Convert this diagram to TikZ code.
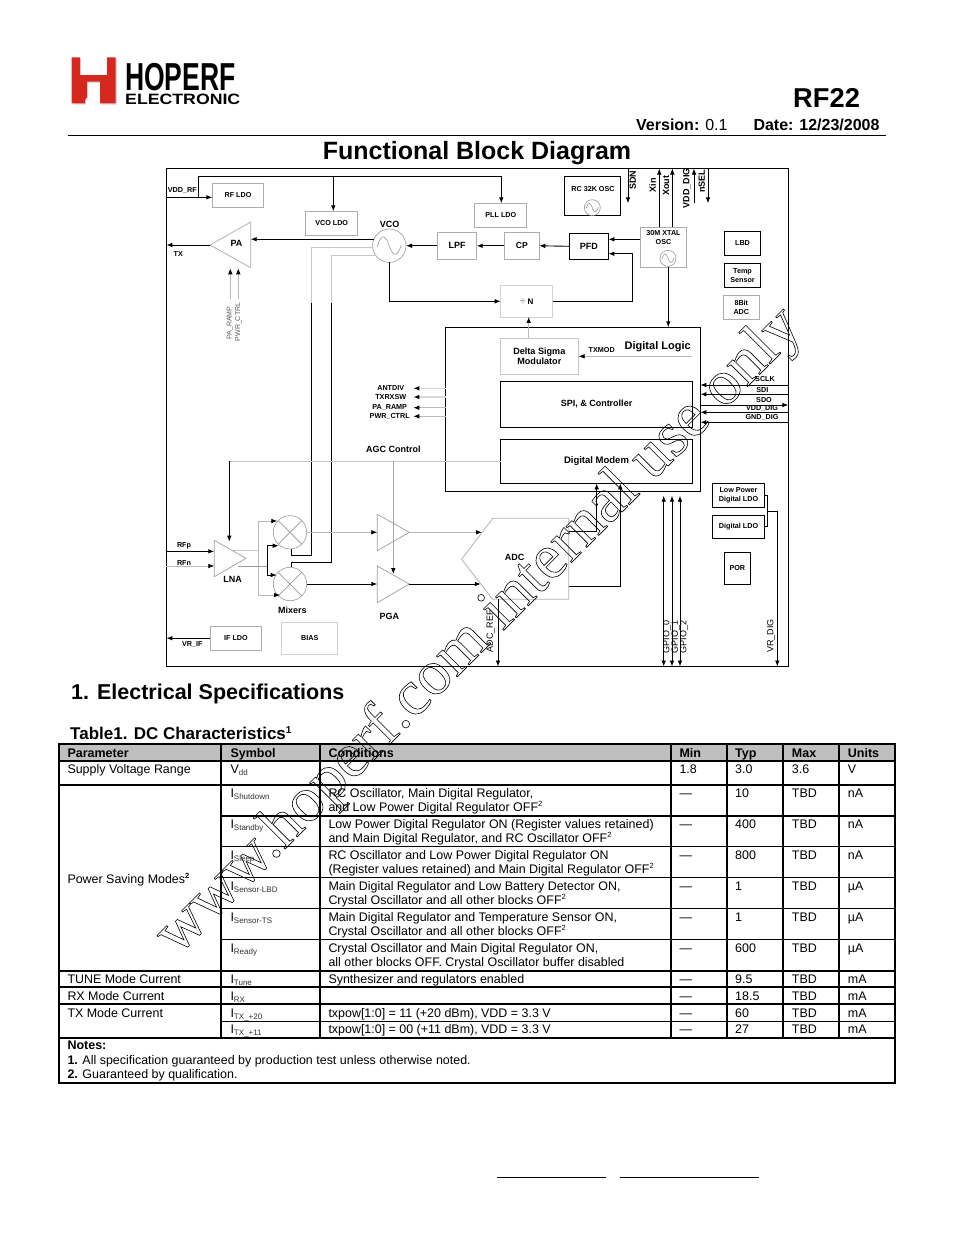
\documentclass[tikz,border=0pt]{standalone}
\usepackage{fontspec}
\setmainfont{Liberation Sans}
\newfontfamily\wmfont{Liberation Serif}
\usetikzlibrary{arrows.meta}
\definecolor{logored}{RGB}{214,40,30}
\newcommand{\fsz}[2]{\fontsize{#1}{#2}\selectfont}
\newcommand{\tsup}[1]{\raisebox{4.6pt}{\fsz{7.5}{8}#1}}
\newcommand{\isub}[2]{#1\raisebox{-2.2pt}{\fsz{8}{8}\textcolor{black!80}{#2}}}

\begin{document}
\begin{tikzpicture}[x=1pt,y=-1pt,
    >={Latex[length=6pt,width=4.6pt,color=black]},
    wh/.style 2 args={minimum width=#1,minimum height=#2},
    block/.style={inner sep=0pt,outer sep=0pt,align=center,line width=.9pt,font=\fsz{7.2}{9}\bfseries},
    kbox/.style={block,draw=black},
    gbox/.style={block,draw=gray!65},
    lbox/.style={block,draw=gray!35},
    ring/.style={circle,inner sep=0pt,outer sep=0pt,draw=gray!80,line width=.6pt},
    tag/.style={inner sep=0pt,font=\fsz{7.2}{9}\bfseries},
    title/.style={inner sep=0pt,font=\fsz{9}{10}\bfseries},
    pin/.style={inner sep=0pt,rotate=90,font=\fsz{9}{10}},
    sig/.style={->,line width=.9pt},
    gsig/.style={->,draw=gray!55,line width=.8pt},
    wire/.style={line width=.9pt},
    gwire/.style={draw=gray!45,line width=.8pt},
    trule/.style={line width=2pt},
    srule/.style={line width=1.1pt},
    cell/.style={inner sep=0pt,anchor=base west,font=\fsz{12.45}{14}},
    head/.style={cell,font=\fsz{12.5}{14}\bfseries}]
  \useasboundingbox (0,0) rectangle (954,1235);
  \fill[white] (0,0) rectangle (954,1235);

  \fill[gray!50,opacity=.6] (73,58.5) -- (81,58.5) -- (81,76) -- (108,76) -- (108,58.5) -- (117,58.5) -- (117,104.5) -- (101,104.5) -- (101,83) -- (88,83) -- (88,98) -- (86,101) -- (86,104.5) -- (73,104.5) -- cycle;
  \fill[logored] (71.7,57.3) -- (80,57.3) -- (80,75) -- (107,75) -- (107,57.3) -- (115.7,57.3) -- (115.7,103.3) -- (100,103.3) -- (100,81.7) -- (87,81.7) -- (87,97) -- (85,100) -- (85,103.3) -- (71.7,103.3) -- cycle;
  \node[inner sep=0pt,anchor=base west,font=\fsz{39}{40}\bfseries] (hoperf) at (125,90.5) {\scalebox{.68}[1]{HOPERF}};
  \node[inner sep=0pt,anchor=base west,font=\fsz{15}{16}\bfseries] (electronic) at (125,104.5) {\scalebox{1.18}[1]{ELECTRONIC}};

  \node[inner sep=0pt,anchor=base west,font=\fsz{27.3}{28}\bfseries] (part) at (793,107.4) {RF22};
  \node[inner sep=0pt,anchor=base west,font=\fsz{16}{17}] (version) at (636,130) {\textbf{Version:} 0.1};
  \node[inner sep=0pt,anchor=base west,font=\fsz{16}{17}\bfseries] (date) at (753.3,130) {Date: 12/23/2008};
  \draw[line width=1pt] (68,135.5) -- (886,135.5);
  \node[inner sep=0pt,anchor=base,font=\fsz{25}{26}\bfseries] (fbd) at (477,159.5) {Functional Block Diagram};

  \node[kbox,wh={622}{498}] (frame) at (477.4,417.5) {};
  \node[gbox,wh={51.4}{24}] (rfldo) at (238,195.3) {RF LDO};
  \node[gbox,wh={52}{24}] (vcoldo) at (331.7,223.3) {VCO LDO};
  \node[gbox,wh={51.8}{24.4}] (pllldo) at (500.8,215.5) {PLL LDO};
  \node[gbox,wh={39.4}{27},font=\fsz{9}{10}\bfseries] (lpf) at (457,245.8) {LPF};
  \node[gbox,wh={35}{27},font=\fsz{8.6}{10}\bfseries] (cp) at (521.8,245.8) {CP};
  \node[kbox,wh={39}{26},font=\fsz{9}{10}\bfseries] (pfd) at (588.8,246.3) {PFD};
  \node[kbox,wh={55.6}{38.7}] (rcosc) at (592.5,195.6) {};
  \node[gbox,wh={46}{40}] (xtal) at (663.3,247.3) {};
  \node[kbox,wh={36.4}{23.6}] (lbd) at (742.5,243.5) {LBD};
  \node[kbox,wh={36.4}{23.7}] (temp) at (742.5,275.2) {Temp\\Sensor};
  \node[gbox,wh={36}{24.3}] (adceight) at (741.3,307.2) {8Bit\\ADC};
  \node[lbox,wh={52}{31.3}] (divn) at (526.7,301.3) {\textcolor{gray!70}{\fsz{10}{10}÷}\hspace{2pt}\fsz{8}{9}N};
  \node[kbox,wh={254.6}{164}] (logic) at (573,409.3) {};
  \node[lbox,draw=gray!45,wh={78.7}{36},font=\fsz{9.1}{10}\bfseries] (delta) at (539.3,356.3) {Delta Sigma\\Modulator};
  \node[kbox,wh={191.6}{46},font=\fsz{9}{10}\bfseries] (spi) at (596.5,404.3) {SPI, \& Controller};
  \node[kbox,wh={191.6}{44},font=\fsz{9.5}{10}\bfseries] (modem) at (596.5,461.3) {Digital Modem};
  \node[kbox,wh={52.4}{24}] (lpldo) at (738.5,495.3) {Low Power\\Digital LDO};
  \node[kbox,wh={52.4}{23}] (dldo) at (738.5,526.8) {Digital LDO};
  \node[kbox,wh={26}{32}] (por) at (737.3,568.3) {POR};
  \node[gbox,wh={51.4}{24.3}] (ifldo) at (236,638.2) {IF LDO};
  \node[lbox,wh={56}{32}] (bias) at (309.7,638.3) {BIAS};

  \node[ring,minimum size=33.4pt] (vco) at (389.3,245.7) {};
  \node[ring,minimum size=16pt] (rcring) at (592.3,207.7) {};
  \node[ring,minimum size=16pt] (xtalring) at (668,258.3) {};
  \node[ring,minimum size=33.4pt] (mixa) at (290,532.3) {};
  \node[ring,minimum size=33.4pt] (mixb) at (290,584) {};
  \foreach \osc/\r in {vco/1,rcring/.5,xtalring/.5} {
    \draw[gray!80,line width=.6pt,shift={(\osc.center)},scale=\r] (-12,1) .. controls (-8,-13) and (-4,-11) .. (0,0) .. controls (3,10) and (8,13) .. (12,-1);
  }
  \foreach \mix in {mixa,mixb} {
    \draw[gray!80,line width=.7pt] (\mix.135) -- (\mix.-45);
    \draw[gray!80,line width=.7pt] (\mix.45) -- (\mix.-135);
  }

  \coordinate (patip) at (210,245);
  \coordinate (pabase) at (250.7,245);
  \coordinate (lnatip) at (246,558.3);
  \coordinate (lnabase) at (214.3,558.3);
  \coordinate (pgaa) at (377.3,532.3);
  \coordinate (pgab) at (377.3,584);
  \draw[gray!65,line width=.7pt] (patip) -- (250.7,222) -- (250.7,267.7) -- cycle;
  \draw[gray!75,line width=.7pt] (lnatip) -- (214.3,540.3) -- (214.3,576.7) -- cycle;
  \draw[gray!75,line width=.7pt] (409.3,532.3) -- (377.3,514.3) -- (377.3,550.7) -- cycle;
  \draw[gray!75,line width=.7pt] (409.3,584) -- (377.3,566) -- (377.3,602.7) -- cycle;
  \draw[gray!60,line width=.8pt] (492.7,518.3) -- (568.7,518.3) -- (568.7,599.3) -- (492.7,599.3) -- (461.7,559.3) -- cycle;

  \foreach \nm/\xx/\yy/\txt in {
    vddrflab/182.3/190.3/{VDD\_RF},txlab/178.3/254.5/TX,vrif/192.3/644.3/{VR\_IF},
    rfplab/184/545.3/RFp,rfnlab/184/562.7/RFn,
    antdiv/390.7/388.3/ANTDIV,txrxsw/390.7/397/TXRXSW,paramp/389.7/407/{PA\_RAMP},pwrctrl/389.7/416/{PWR\_CTRL},
    txmod/601.7/350.3/TXMOD,sclk/765/379/SCLK,sdi/762.3/390/SDI,sdo/764/400.3/SDO,vdddig/762/408/{VDD\_DIG},gnddig/762/417.5/{GND\_DIG},
    rclab/593/189/{RC 32K OSC}} {
    \node[tag] (\nm) at (\xx,\yy) {\txt};
  }
  \node[tag,align=center] (xtallab) at (663.5,238) {30M XTAL\\OSC};
  \foreach \nm/\xx/\yy/\txt in {
    palab/236.5/243.5/PA,vcolab/389.7/224/VCO,agc/393.3/449.7/{AGC Control},lnalab/232.7/579/LNA,
    mixlab/292.3/610/Mixers,pgalab/389.3/616/PGA,adclab/514.7/557.7/ADC} {
    \node[title] (\nm) at (\xx,\yy) {\txt};
  }
  \node[title,font=\fsz{11}{12}\bfseries] (logiclab) at (657.7,346.7) {Digital Logic};
  \foreach \nm/\xx/\yy/\txt in {
    sdnlab/632.7/180/SDN,xinlab/652.7/185/Xin,xoutlab/666/185.7/Xout,vddpin/686.7/188/{VDD\_DIG},nsellab/701.7/181/nSEL} {
    \node[pin,font=\fsz{9}{10}\bfseries] (\nm) at (\xx,\yy) {\txt};
  }
  \foreach \nm/\xx/\yy/\txt in {
    adcref/490.7/631/{ADC\_REF},gpioa/667/637/{GPIO\_0},gpiob/675.7/637/{GPIO\_1},gpioc/684/637/{GPIO\_2},vrdig/771/636/{VR\_DIG}} {
    \node[pin] (\nm) at (\xx,\yy) {\txt};
  }
  \node[pin,font=\fsz{7}{8},text=black!65] (ramppin) at (230,323) {PA\_RAMP};
  \node[pin,font=\fsz{7}{8},text=black!65] (ctrlpin) at (238.3,322) {PWR\_CTRL};

  \draw[wire] (frame.west |- 0,197.3) -- (198.3,197.3) -- (198.3,176.3) -- (501.3,176.3);
  \draw[sig] (198.3,197.3) -- (rfldo.west |- 0,197.3);
  \draw[sig] (333.3,176.3) -- (333.3,0 |- vcoldo.north);
  \draw[sig] (501.3,176.3) -- (501.3,0 |- pllldo.north);
  \draw[sig] (vco.157) -- (vco.157 -| pabase);
  \draw[sig] (patip) -- (patip -| frame.west);
  \draw[sig] (lpf.west |- vco) -- (vco);
  \draw[sig] (cp.west) -- (lpf.east);
  \draw[sig] (pfd.west) -- (cp.east);
  \draw[sig] (xtal.west |- 0,239.3) -- (pfd.east |- 0,239.3);
  \draw[sig] (divn.east) -| (632.7,253.7) -- (pfd.east |- 0,253.7);
  \draw[sig] (vco.south) |- (divn.west);
  \draw[gsig] (230.3,299.3) -- (230.3,268.3);
  \draw[gsig] (238.3,299.3) -- (238.3,268.3);
  \draw[gwire] (vco.185) -- (311.7,0 |- vco.185) -- (311.7,303.3);
  \draw[gwire] (vco.215) -- (331.7,0 |- vco.215) -- (331.7,303);
  \draw[wire] (311.7,303.3) -- (311.7,555) -- (291.7,555) -- (291.7,0 |- mixa.south);
  \draw[wire] (331.7,303) -- (331.7,562.3) -- (291.7,562.3) -- (291.7,0 |- mixb.north);

  \draw[sig] (659.3,0 |- xtal.north) -- (659.3,0 |- frame.north);
  \draw[sig] (672.3,0 |- xtal.north) -- (672.3,0 |- frame.north);
  \draw[sig] (628,0 |- frame.north) -- (628,203.3);
  \draw[sig] (694,203.3) -- (694,0 |- frame.north);
  \draw[sig] (708,0 |- frame.north) -- (708,203.3);
  \draw[sig] (668.3,0 |- xtal.south) -- (668.3,0 |- logic.north);
  \draw[gsig] (528.7,0 |- delta.north) -- (528.7,0 |- divn.south);
  \draw[gsig] (692,356.3) -- (delta.east);

  \foreach \yy in {385,394.3,412.3,422.3} {
    \draw[sig] (frame.east |- 0,\yy) -- (logic.east |- 0,\yy);
  }
  \draw[sig] (logic.east |- 0,405) -- (frame.east |- 0,405);
  \draw[gsig,draw=gray!30,line width=1.5pt] (logic.west |- 0,388.3) -- (413.3,388.3);
  \draw[gsig,draw=gray!30,line width=1.5pt] (logic.west |- 0,397) -- (413.3,397);
  \draw[gsig] (logic.west |- 0,407.7) -- (413.3,407.7);
  \draw[gsig] (logic.west |- 0,416.3) -- (413.3,416.3);

  \draw[gwire] (modem.west) -- (229.3,0 |- modem.west);
  \draw[sig] (229.3,0 |- modem.west) -- (229.3,541.7);
  \draw[gsig,draw=gray!70] (393.3,0 |- modem.west) -- (393.3,574);

  \draw[sig] (frame.west |- 0,551.3) -- (lnabase |- 0,551.3);
  \draw[gsig] (frame.west |- 0,566) -- (lnabase |- 0,566);
  \draw[gwire] (233.3,550.7) -- (258.3,550.7);
  \draw[gsig] (258.3,550.7) -- (258.3,521) -- (277.3,521);
  \draw[gsig] (258.3,550.7) -- (258.3,595) -- (280,595);
  \draw[gray!80,line width=.8pt] (238.3,566) -- (267.3,566);
  \draw[sig] (267.3,566) -- (267.3,545.7) -- (278.7,545.7);
  \draw[sig] (267.3,566) -- (267.3,575) -- (276.7,575);
  \draw[gsig] (mixa.east) -- (pgaa);
  \draw[sig] (mixb.east) -- (pgab);
  \draw[gsig] (409.3,532.3) -- (482,532.3);
  \draw[sig] (409.3,584) -- (480.8,584);
  \draw[sig] (568.7,531) -| (596.7,0 |- modem.south);
  \draw[sig] (568.7,586) -| (620.3,0 |- modem.south);
  \draw[sig] (498,599.3) -- (498,0 |- frame.south);
  \foreach \xx in {663.7,672,680} {
    \draw[<->,line width=.9pt] (\xx,495.7) -- (\xx,0 |- frame.south);
  }
  \draw[wire] (lpldo.east) -- (767.3,0 |- lpldo.east) -- (767.3,0 |- dldo.east) -- (dldo.east);
  \draw[sig] (767.3,511.3) -- (777.3,511.3) -- (777.3,0 |- frame.south);
  \draw[sig] (ifldo.west) -- (ifldo.west -| frame.west);

  \node[inner sep=0pt,anchor=base west,font=\fsz{21.5}{23}\bfseries] (elec) at (71,699.3) {1. Electrical Specifications};
  \node[inner sep=0pt,anchor=base west,font=\fsz{17}{18}\bfseries] (tbl) at (70,739.3) {Table1. DC Characteristics\raisebox{6pt}{\fsz{10}{10}1}};

  \fill[black!25] (58.5,744) rectangle (895,760.7);
  \foreach \xx in {58.5,221,319.5,670.7,726.7,782.7,839} {
    \draw[trule] (\xx,743) -- (\xx,1038);
  }
  \draw[trule] (58.5,1038) -- (58.5,1083.7);
  \draw[line width=1.5pt] (895,743) -- (895,1083.7);
  \foreach \yy in {744,760.7,784.7,970.7,987.3,1004.3,1038,1082.7} {
    \draw[trule] (58.5,\yy) -- (895,\yy);
  }
  \foreach \yy in {816,846.7,877.7,908.7,939.7,1021.3} {
    \draw[srule] (221,\yy) -- (895,\yy);
  }

  \foreach \nm/\xx/\txt in {hpar/67.3/Parameter,hsym/230.3/Symbol,hcon/328.3/Conditions,hmin/679.3/Min,htyp/735/Typ,hmax/791.7/Max,hunit/847.7/Units} {
    \node[head] (\nm) at (\xx,757.3) {\txt};
  }
  \foreach \nm/\yy/\txt in {psupply/773.3/Supply Voltage Range,ppower/883/{Power Saving Modes\textbf{\tsup{2}}},ptune/983.3/TUNE Mode Current,prx/1000.3/RX Mode Current,ptx/1017.3/TX Mode Current} {
    \node[cell] (\nm) at (67.3,\yy) {\txt};
  }
  \foreach \rid/\yy/\sym/\mn/\tp/\mx/\un in {
    a/773.3/{\isub{V}{dd}}/1.8/3.0/3.6/V,
    b/797.3/{\isub{I}{Shutdown}}/—/10/TBD/nA,
    c/828.3/{\isub{I}{Standby}}/—/400/TBD/nA,
    d/859.3/{\isub{I}{Sleep}}/—/800/TBD/nA,
    e/890.3/{\isub{I}{Sensor-LBD}}/—/1/TBD/µA,
    f/921.3/{\isub{I}{Sensor-TS}}/—/1/TBD/µA,
    g/952.3/{\isub{I}{Ready}}/—/600/TBD/µA,
    h/983.3/{\isub{I}{Tune}}/—/9.5/TBD/mA,
    i/1000.3/{\isub{I}{RX}}/—/18.5/TBD/mA,
    j/1017.3/{\isub{I}{TX\_+20}}/—/60/TBD/mA,
    k/1033.3/{\isub{I}{TX\_+11}}/—/27/TBD/mA} {
    \node[cell] (sym\rid) at (230.3,\yy) {\sym};
    \node[cell] (min\rid) at (679.3,\yy) {\mn};
    \node[cell] (typ\rid) at (735,\yy) {\tp};
    \node[cell] (max\rid) at (791.7,\yy) {\mx};
    \node[cell] (unit\rid) at (847.7,\yy) {\un};
  }
  \foreach \nm/\yy/\txt in {
    cba/797.3/{RC Oscillator, Main Digital Regulator,},
    cbb/811.3/{and Low Power Digital Regulator OFF\tsup{2}},
    cca/828.3/{Low Power Digital Regulator ON (Register values retained)},
    ccb/842.3/{and Main Digital Regulator, and RC Oscillator OFF\tsup{2}},
    cda/859.3/{RC Oscillator and Low Power Digital Regulator ON},
    cdb/873.3/{(Register values retained) and Main Digital Regulator OFF\tsup{2}},
    cea/890.3/{Main Digital Regulator and Low Battery Detector ON,},
    ceb/904.3/{Crystal Oscillator and all other blocks OFF\tsup{2}},
    cfa/921.3/{Main Digital Regulator and Temperature Sensor ON,},
    cfb/935.3/{Crystal Oscillator and all other blocks OFF\tsup{2}},
    cga/952.3/{Crystal Oscillator and Main Digital Regulator ON,},
    cgb/966.3/{all other blocks OFF. Crystal Oscillator buffer disabled},
    cha/983.3/{Synthesizer and regulators enabled},
    cja/1017.3/{txpow[1:0] = 11 (+20 dBm), VDD = 3.3 V},
    cka/1033.3/{txpow[1:0] = 00 (+11 dBm), VDD = 3.3 V}} {
    \node[cell] (\nm) at (328.3,\yy) {\txt};
  }
  \node[head] (notes) at (67.3,1049.7) {Notes:};
  \node[cell] (notea) at (67.3,1064) {\textbf{1.} All specification guaranteed by production test unless otherwise noted.};
  \node[cell] (noteb) at (67.3,1078.7) {\textbf{2.} Guaranteed by qualification.};

  \draw[line width=1pt] (497,1177.5) -- (606,1177.5);
  \draw[line width=1pt] (620,1177.5) -- (759,1177.5);

  \node[inner sep=0pt,rotate=45,font=\fsz{64}{64}\wmfont] (mark) at (480,632) {\special{pdf:code 1 Tr 0.6 w}www.hoperf.com internal use only\special{pdf:code 0 Tr}};
\end{tikzpicture}
\end{document}
